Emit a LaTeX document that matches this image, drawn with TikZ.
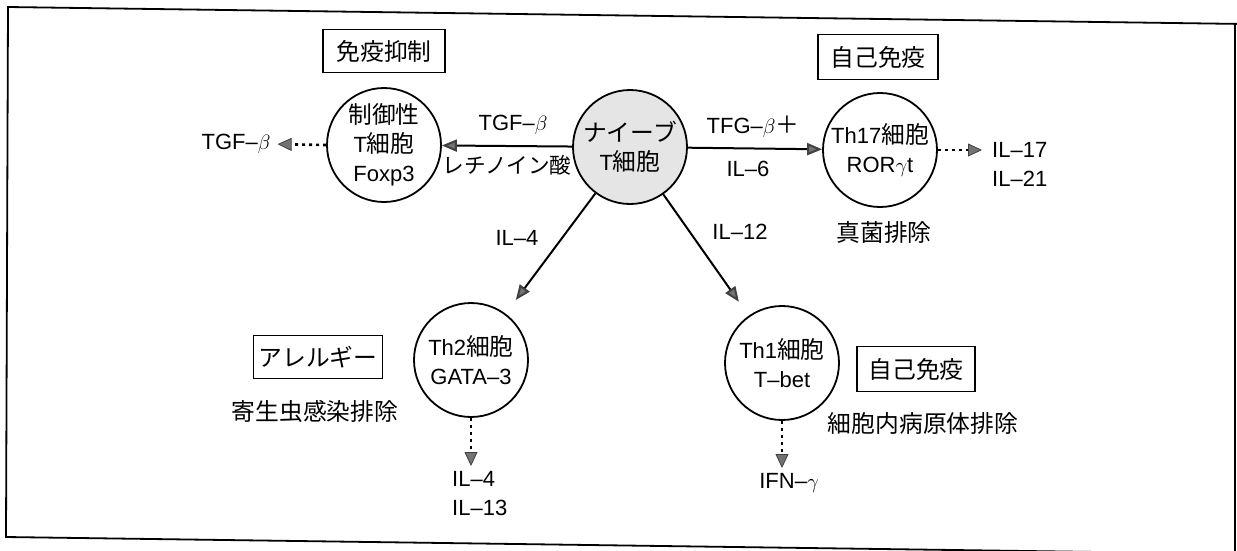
\documentclass[tikz,border=0pt]{standalone}
\usepackage{fontspec}
\setmainfont{Liberation Sans}
\newfontfamily\jp[Scale=1.08]{Noto Sans CJK JP}
\usetikzlibrary{arrows.meta}
\tikzset{
  txt/.style={font=\fontsize{22}{29}\selectfont, inner sep=0pt, align=center},
  cell/.style={circle, draw, line width=1.8pt, minimum size=114pt, inner sep=0pt, align=center, font=\fontsize{22}{29}\selectfont},
  tagbox/.style={draw, line width=1.8pt, minimum width=120pt, minimum height=43pt, inner sep=0pt, font=\fontsize{22}{29}\selectfont},
  mainarrow/.style={line width=2pt, -{Triangle[length=15pt, width=12pt, fill=black!55, color=black!75]}},
  outarrow/.style={line width=2.6pt, dash pattern=on 3pt off 4pt, -{Triangle[length=14pt, width=13pt, fill=black!55, color=black!75, line width=0.8pt]}},
}
\begin{document}
\begin{tikzpicture}[x=1pt, y=-1pt]
\useasboundingbox (0,0) rectangle (1237,550);
% frame
\draw[line width=1.8pt] (1245,24) -- (8,7) -- (6,537) -- (1245,554);
\draw[line width=1.8pt] (1235,23) -- (1235,560);

% cells
\node[cell, fill=black!10] (naive) at (630,147) {{\jp ナイーブ}\\T{\jp 細胞}};
\node[cell] (treg) at (384,145) {{\jp 制御性}\\T{\jp 細胞}\\Foxp3};
\node[cell] (th17) at (880,150) {Th17{\jp 細胞}\\ROR$\gamma$t};
\node[cell] (th2) at (471,360) {Th2{\jp 細胞}\\GATA--3};
\node[cell] (th1) at (782,363) {Th1{\jp 細胞}\\T--bet};

% tag boxes
\node[tagbox, minimum width=122pt] (tagsup) at (384,51) {\jp 免疫抑制};
\node[tagbox, minimum height=45pt] (tagauto1) at (878,57) {\jp 自己免疫};
\node[tagbox, minimum width=129pt] (tagall) at (318,357) {\jp アレルギー};
\node[tagbox, minimum width=118pt, minimum height=45pt] (tagauto2) at (916,369) {\jp 自己免疫};

% texts
\node[txt] (tgfl) at (513,125) {TGF--$\beta$};
\node[txt, font=\fontsize{20}{26}\selectfont] (ra) at (507,165) {\jp レチノイン酸};
\node[txt] (tfg) at (753,127) {TFG--$\beta${\jp ＋}};
\node[txt] (il6) at (748,169) {IL--6};
\node[txt] (il4l) at (517,238) {IL--4};
\node[txt] (il12l) at (740,232) {IL--12};
\node[txt] (fungi) at (884,232) {\jp 真菌排除};
\node[txt] (para) at (315,411) {\jp 寄生虫感染排除};
\node[txt] (intra) at (923,423) {\jp 細胞内病原体排除};

% outputs
\node[txt] (tgfout) at (236,144) {TGF--$\beta$};
\node[txt, align=left, anchor=west] (il17) at (992,164) {IL--17\\IL--21};
\node[txt, align=left, anchor=north west] (il4out) at (452,471) {IL--4\\IL--13};
\node[txt, anchor=north] (ifn) at (789,473) {IFN--$\gamma$};

% main arrows
\draw[mainarrow] (naive) -- (treg);
\draw[mainarrow] (naive) -- (th17);
\draw[mainarrow, shorten >=17pt] (naive) -- (th2);
\draw[mainarrow, shorten >=17pt] (naive) -- (th1);

% output arrows
\draw[outarrow, shorten >=7pt] (treg.west) -- (tgfout.east);
\draw[outarrow, shorten >=10pt] (th17.east) -- (th17.east -| il17.west);
\draw[outarrow, shorten >=5pt] (th2.south) -- (th2.south |- il4out.north);
\draw[outarrow, shorten >=5pt] (th1.south) -- (th1.south |- ifn.north);
\end{tikzpicture}
\end{document}
